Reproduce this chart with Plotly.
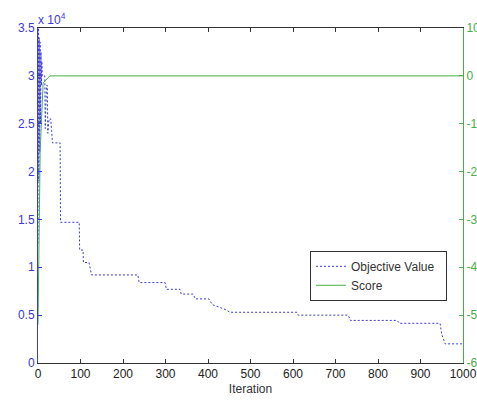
import plotly.graph_objects as go

# Objective value (step-wise decreasing), iteration vs value
obj_iter = [0, 1, 2, 3, 4, 5, 6, 7, 8, 9, 10, 14, 16, 17, 20, 22, 23, 26, 30, 32, 34, 42, 52, 53,
            97, 98, 106, 107, 120, 126, 235, 238, 299, 302, 334, 337, 365, 370, 402, 410, 440, 452,
            609, 612, 730, 735, 845, 850, 946, 950, 958, 1000]
obj_val = [12500, 35000, 19000, 34000, 22000, 33500, 25000, 32500, 29000, 31500, 30000, 30000, 30000,
           24500, 29000, 29000, 24000, 25500, 25500, 24300, 23000, 23000, 23000, 14700,
           14700, 11800, 11800, 10500, 10500, 9200, 9200, 8400, 8400, 7700, 7700, 7200, 7200, 6700,
           6700, 6100, 5600, 5300, 5300, 5000, 5000, 4450, 4450, 4150, 4150, 3000, 2000, 2000]

# Score
score_iter = [0, 5, 12, 28, 1000]
score_val = [-52, -16, -1.5, 0, 0]

x_ticks = list(range(0, 1001, 100))
y_ticks = [0, 5000, 10000, 15000, 20000, 25000, 30000, 35000]
y_ticktext = ["0", "0.5", "1", "1.5", "2", "2.5", "3", "3.5"]
y2_ticks = [-60, -50, -40, -30, -20, -10, 0, 10]
y2_ticktext = ["-60", "-50", "-40", "-30", "-20", "-10", "0", "10"]

BLUE = "#3a3ad6"
GREEN = "#45b045"
FONT = "Liberation Sans, Arial, sans-serif"
NBSP = "\u00a0"

fig = go.Figure()
fig.add_trace(go.Scatter(x=obj_iter, y=obj_val, mode="lines", name="Objective Value" + NBSP * 2,
                         line=dict(color=BLUE, width=1, dash="2px,2px")))
fig.add_trace(go.Scatter(x=score_iter, y=score_val, mode="lines", name="Score", yaxis="y2",
                         line=dict(color=GREEN, width=1)))

fig.update_layout(
    width=477, height=401,
    margin=dict(l=38, r=14, t=28, b=38, autoexpand=False),
    paper_bgcolor="white", plot_bgcolor="white",
    font=dict(family=FONT, size=12, color="#222"),
    xaxis=dict(range=[0, 1000], tickvals=x_ticks, showgrid=False, zeroline=False,
               showline=True, linecolor="#333", linewidth=1, mirror="ticks",
               ticks="inside", ticklen=4, tickcolor="#333", automargin=False,
               tickfont=dict(size=12, color="#222"),
               title=dict(text="Iteration", font=dict(size=12, color="#333"), standoff=4)),
    yaxis=dict(range=[0, 35000], tickvals=y_ticks, ticktext=y_ticktext, showgrid=False,
               zeroline=False, showline=True, linecolor=BLUE, linewidth=1, automargin=False,
               ticks="inside", ticklen=4, tickcolor=BLUE,
               tickfont=dict(size=12, color=BLUE)),
    yaxis2=dict(range=[-60, 10], tickvals=y2_ticks, ticktext=y2_ticktext, overlaying="y",
                side="right", showgrid=False, zeroline=False, showline=True, automargin=False,
                linecolor=GREEN, linewidth=1, ticks="inside", ticklen=4, tickcolor=GREEN,
                tickfont=dict(size=12, color=GREEN)),
    legend=dict(x=0.64, y=0.335, xanchor="left", yanchor="top", bgcolor="white",
                bordercolor="#333", borderwidth=1, font=dict(size=12, color="#333"),
                tracegroupgap=0),
    showlegend=True,
    annotations=[dict(text="x 10<sup>4</sup>", xref="paper", yref="paper", x=0, y=1,
                      xanchor="left", yanchor="bottom", showarrow=False, yshift=-1, xshift=-2,
                      font=dict(size=12, color=BLUE))],
)

fig.write_html("out.html", config={"displayModeBar": False},
               post_script="document.body.style.margin='0';document.body.style.overflow='hidden';")
